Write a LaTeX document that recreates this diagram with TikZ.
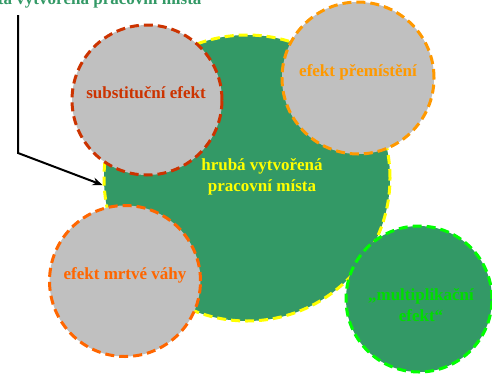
\documentclass[tikz,border=0pt]{standalone}
\usepackage{fontspec}
\setmainfont{Liberation Serif}
\usetikzlibrary{arrows.meta}
\definecolor{dgreen}{HTML}{339966}
\definecolor{cgray}{HTML}{C0C0C0}
\definecolor{cred}{HTML}{CC3300}
\definecolor{corange}{HTML}{FF9900}
\definecolor{corange2}{HTML}{FF6600}
\definecolor{cyellow}{HTML}{FFFF00}
\definecolor{clime}{HTML}{00FF00}
\definecolor{ctext}{HTML}{00DD00}
\begin{document}
\begin{tikzpicture}[x=1pt,y=-1pt,
  circ/.style={circle,line width=3pt,dash pattern=on 9pt off 5pt,inner sep=0pt},
  lbl/.style={font=\bfseries\fontsize{17}{21}\selectfont,align=center},
  conn/.style={line width=2pt,-{Stealth[length=10pt,width=8pt]}}]
\useasboundingbox (0,0) rectangle (492,375);
\clip (0,0) rectangle (492,375);
\node[circ,draw=cyellow,fill=dgreen,minimum size=286pt] (big) at (247,178) {};
\node[circ,draw=cred,fill=cgray,minimum size=150pt] (sub) at (147,100) {};
\node[circ,draw=corange,fill=cgray,minimum size=152pt] (pre) at (358,78) {};
\node[circ,draw=corange2,fill=cgray,minimum size=151pt] (mrt) at (125,281) {};
\node[circ,draw=clime,fill=dgreen,minimum size=146pt] (mul) at (419,299) {};
\node[lbl,text=cyellow] (tbig) at (262,177) {hrubá vytvořená\\pracovní místa};
\node[lbl,text=cred] (tsub) at (146,93) {substituční efekt};
\node[lbl,text=corange] (tpre) at (358,72) {efekt přemístění};
\node[lbl,text=corange2] (tmrt) at (125,275) {efekt mrtvé váhy};
\node[lbl,text=ctext] (tmul) at (421,305) {„multiplikační\\efekt“};
\node[lbl,text=dgreen,anchor=base east] (top) at (205,4) {čistá vytvořená pracovní místa};
\coordinate (a0) at (18,15);
\coordinate (a1) at (18,153);
\draw[conn] (a0) -- (a1) -- (big.west |- 0,185);
\end{tikzpicture}
\end{document}
